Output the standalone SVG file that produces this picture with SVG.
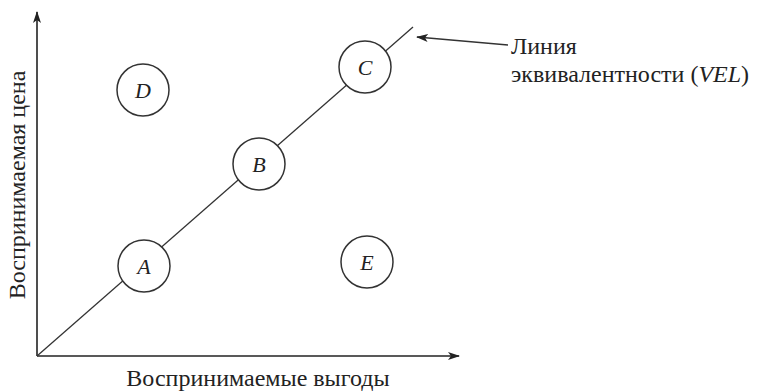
<svg xmlns="http://www.w3.org/2000/svg" width="759" height="392" viewBox="0 0 759 392">
<style>
text{font-family:"Liberation Serif","DejaVu Serif",serif;fill:#222;font-size:24px}
.it{font-style:italic}
.nl{font-size:22px}
.node circle{fill:#fff;stroke:#333;stroke-width:1.5}
.ax{stroke:#222;stroke-width:1.6;fill:none}
.ln{stroke:#333;stroke-width:1.3;fill:none}
</style>
<defs>
<marker id="ah" viewBox="0 0 12 8" refX="11" refY="4" markerWidth="12" markerHeight="8" markerUnits="userSpaceOnUse" orient="auto">
<path d="M0,0 L12,4 L0,8 L3,4 Z" fill="#222"/>
</marker>
</defs>
<rect width="759" height="392" fill="#fff"/>
<g id="connectors">
<line class="ax" x1="37" y1="356" x2="37" y2="12" marker-end="url(#ah)"/>
<line class="ax" x1="37" y1="356" x2="459" y2="356" marker-end="url(#ah)"/>
<line class="ln" x1="37" y1="356" x2="413" y2="27"/>
<line class="ln" x1="508" y1="45" x2="417" y2="37" marker-end="url(#ah)"/>
</g>
<g id="A" class="node"><circle cx="144" cy="266" r="26"/><text class="it nl" x="144" y="274" text-anchor="middle">A</text></g>
<g id="B" class="node"><circle cx="259" cy="164" r="26"/><text class="it nl" x="259" y="172" text-anchor="middle">B</text></g>
<g id="C" class="node"><circle cx="365" cy="67" r="26"/><text class="it nl" x="365" y="75" text-anchor="middle">C</text></g>
<g id="D" class="node"><circle cx="143" cy="90" r="26"/><text class="it nl" x="143" y="98" text-anchor="middle">D</text></g>
<g id="E" class="node"><circle cx="367" cy="262" r="26"/><text class="it nl" x="367" y="270" text-anchor="middle">E</text></g>
<g id="labels">
<text x="511" y="54">Линия</text>
<text x="511" y="82">эквивалентности (<tspan class="it">VEL</tspan>)</text>
<text x="258" y="386" text-anchor="middle">Воспринимаемые выгоды</text>
<text transform="translate(25,185) rotate(-90)" text-anchor="middle">Воспринимаемая цена</text>
</g>
</svg>
